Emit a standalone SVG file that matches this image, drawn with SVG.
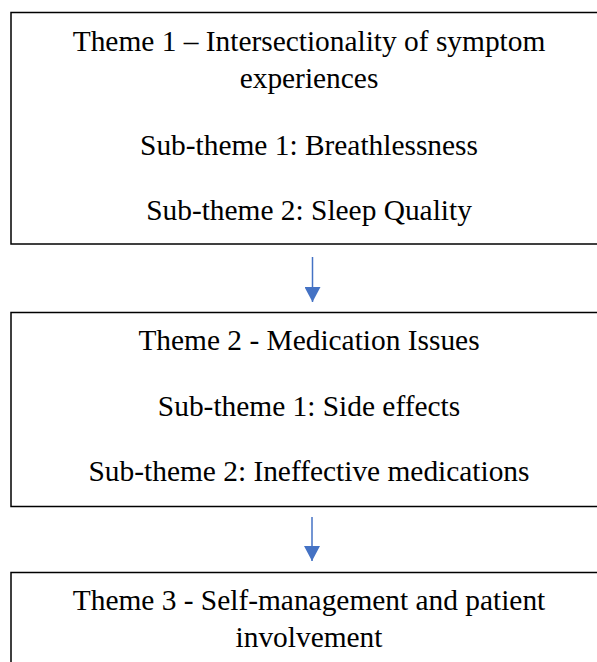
<svg xmlns="http://www.w3.org/2000/svg" width="597" height="662" viewBox="0 0 597 662">
  <style>
    .box { fill: #ffffff; stroke: #000000; stroke-width: 1.5; }
    .t { font-family: "Liberation Serif", "Times New Roman", serif; font-size: 29.4px; fill: #000000; text-anchor: middle; }
    .conn { stroke: #4472C4; stroke-width: 1.5; fill: none; }
  </style>
  <defs>
    <marker id="arrow" markerWidth="16" markerHeight="16" refX="15" refY="8" orient="auto" markerUnits="userSpaceOnUse">
      <path d="M0,0 L15,8 L0,16 Z" fill="#4472C4"/>
    </marker>
  </defs>
  <rect width="597" height="662" fill="#ffffff"/>

  <g id="theme1">
    <rect class="box" x="11" y="12.5" width="600" height="231.5"/>
    <text class="t" x="309" y="51">Theme 1 – Intersectionality of symptom</text>
    <text class="t" x="309" y="88">experiences</text>
    <text class="t" x="309" y="155">Sub-theme 1: Breathlessness</text>
    <text class="t" x="309" y="220">Sub-theme 2: Sleep Quality</text>
  </g>

  <g id="theme2">
    <rect class="box" x="11" y="312.5" width="600" height="194"/>
    <text class="t" x="309" y="350">Theme 2 - Medication Issues</text>
    <text class="t" x="309" y="416">Sub-theme 1: Side effects</text>
    <text class="t" x="309" y="481">Sub-theme 2: Ineffective medications</text>
  </g>

  <g id="theme3">
    <rect class="box" x="11" y="572.5" width="600" height="120"/>
    <text class="t" x="309" y="610">Theme 3 - Self-management and patient</text>
    <text class="t" x="309" y="647">involvement</text>
  </g>

  <g id="connectors">
    <line class="conn" x1="312.5" y1="257" x2="312.5" y2="302" marker-end="url(#arrow)"/>
    <line class="conn" x1="312" y1="517" x2="312" y2="561" marker-end="url(#arrow)"/>
  </g>
</svg>
